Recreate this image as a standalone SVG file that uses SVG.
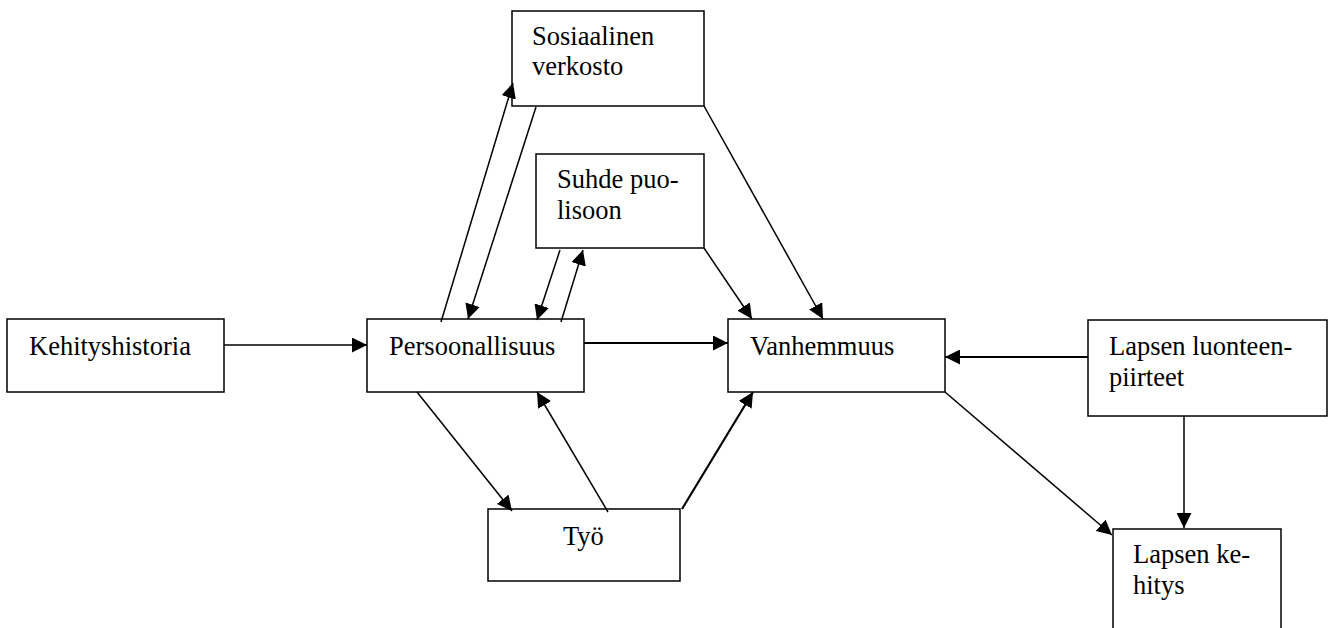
<svg xmlns="http://www.w3.org/2000/svg" width="1328" height="628" viewBox="0 0 1328 628">
<style>
.box{fill:#fff;stroke:#000;stroke-width:1.5}
.lbl{font-family:"Liberation Serif","Times New Roman",serif;font-size:26.5px;fill:#000}
.edge{stroke:#000;stroke-width:1.5;fill:none;marker-end:url(#ah)}
.thick{stroke-width:2.2}
</style>
<defs>
<marker id="ah" markerUnits="userSpaceOnUse" markerWidth="15" markerHeight="15" refX="15" refY="7.5" orient="auto">
<path d="M0,0 L15,7.5 L0,15 z" fill="#000"/>
</marker>
</defs>
<rect width="1328" height="628" fill="#fff"/>
<g id="n-sosiaalinen"><rect class="box" x="512" y="11" width="192" height="95"/><text class="lbl" x="532" y="45">Sosiaalinen</text><text class="lbl" x="532" y="75">verkosto</text></g>
<g id="n-suhde"><rect class="box" x="536" y="154" width="168" height="94"/><text class="lbl" x="557" y="188">Suhde puo-</text><text class="lbl" x="557" y="219">lisoon</text></g>
<g id="n-kehityshistoria"><rect class="box" x="7" y="319" width="217" height="73"/><text class="lbl" x="29" y="355">Kehityshistoria</text></g>
<g id="n-persoonallisuus"><rect class="box" x="367" y="319" width="217" height="73"/><text class="lbl" x="389" y="355">Persoonallisuus</text></g>
<g id="n-vanhemmuus"><rect class="box" x="728" y="319" width="217" height="73"/><text class="lbl" x="750" y="355">Vanhemmuus</text></g>
<g id="n-luonteenpiirteet"><rect class="box" x="1088" y="320" width="239" height="96"/><text class="lbl" x="1109" y="355">Lapsen luonteen-</text><text class="lbl" x="1109" y="386">piirteet</text></g>
<g id="n-tyo"><rect class="box" x="488" y="509" width="192" height="72"/><text class="lbl" x="563" y="545">Työ</text></g>
<g id="n-kehitys"><rect class="box" x="1113" y="529" width="168" height="120"/><text class="lbl" x="1133" y="563">Lapsen ke-</text><text class="lbl" x="1133" y="594">hitys</text></g>
<g id="connectors">
<line class="edge" x1="224" y1="345" x2="367" y2="345"/>
<line class="edge thick" x1="584" y1="343" x2="728" y2="343"/>
<line class="edge" x1="441" y1="322" x2="513" y2="83"/>
<line class="edge" x1="536" y1="107" x2="468" y2="319"/>
<line class="edge" x1="560" y1="250" x2="537" y2="320"/>
<line class="edge" x1="561" y1="322" x2="583" y2="250"/>
<line class="edge" x1="704" y1="248" x2="752" y2="319"/>
<line class="edge" x1="704" y1="106" x2="823" y2="319"/>
<line class="edge" x1="417" y1="392" x2="512" y2="511"/>
<line class="edge" x1="608" y1="512" x2="537" y2="392"/>
<line class="edge thick" x1="682" y1="509" x2="753" y2="392"/>
<line class="edge thick" x1="1088" y1="357" x2="945" y2="357"/>
<line class="edge" x1="945" y1="392" x2="1112" y2="535"/>
<line class="edge" x1="1184" y1="416" x2="1184" y2="528"/>
</g>
</svg>
